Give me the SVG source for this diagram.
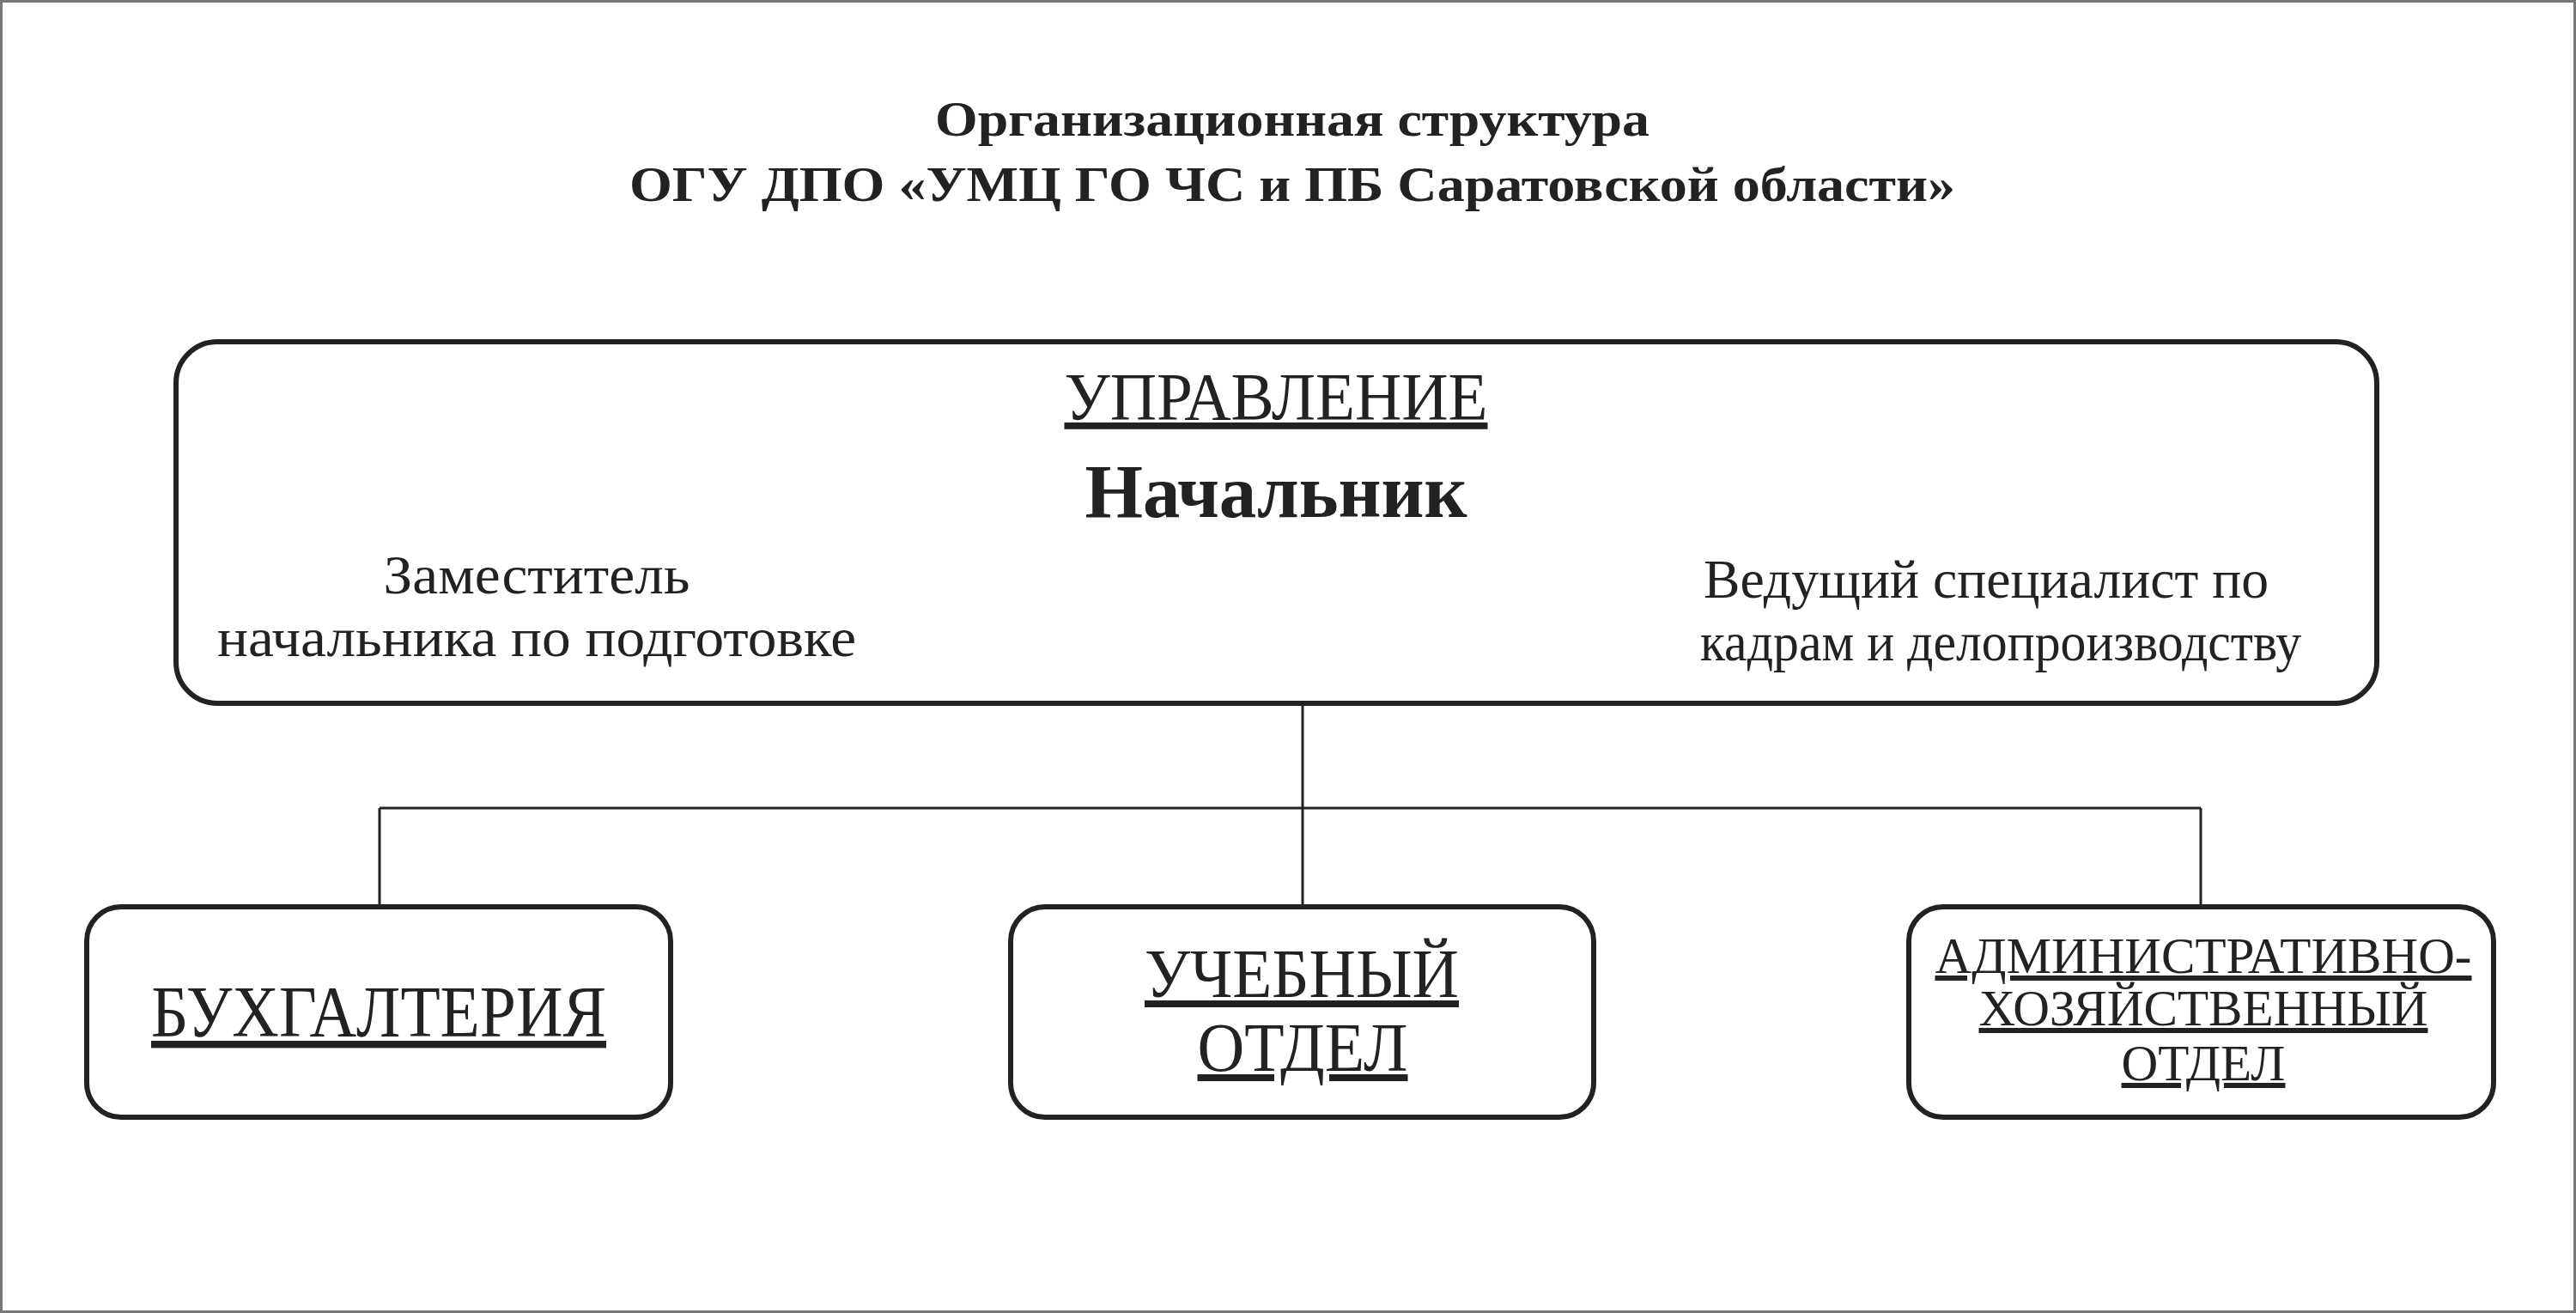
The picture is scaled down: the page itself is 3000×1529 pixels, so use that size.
<svg xmlns="http://www.w3.org/2000/svg" width="3000" height="1529" viewBox="0 0 3000 1529">
<style>
.box{fill:#fff;stroke:#222;stroke-width:6}
.t{font-family:"Liberation Serif",serif;fill:#222;text-anchor:middle}
.u{text-decoration:underline}
.c{stroke:#222;stroke-width:3;fill:none}
</style>
<rect x="0" y="0" width="3000" height="1529" fill="#fff"/>
<rect x="1.5" y="1.5" width="2997" height="1526" fill="none" stroke="#777" stroke-width="3"/>
<g id="title">
<text class="t" x="1505" y="158" font-size="56" font-weight="bold" textLength="832" lengthAdjust="spacingAndGlyphs">Организационная структура</text>
<text class="t" x="1505" y="234" font-size="56" font-weight="bold" textLength="1544" lengthAdjust="spacingAndGlyphs">ОГУ ДПО «УМЦ ГО ЧС и ПБ Саратовской области»</text>
</g>
<g id="connectors">
<path class="c" d="M1517 819 V1056 M442 941 H2563 M442 941 V1056 M2563 941 V1056"/>
</g>
<g id="upravlenie">
<rect class="box" x="205" y="398" width="2563" height="421" rx="48"/>
<text class="t u" x="1486" y="488" font-size="78" textLength="493" lengthAdjust="spacingAndGlyphs">УПРАВЛЕНИЕ</text>
<text class="t" x="1486" y="602" font-size="88" font-weight="bold" textLength="445" lengthAdjust="spacingAndGlyphs">Начальник</text>
<text class="t" x="625" y="691" font-size="64" textLength="357" lengthAdjust="spacingAndGlyphs">Заместитель</text>
<text class="t" x="625" y="764" font-size="64" textLength="744" lengthAdjust="spacingAndGlyphs">начальника по подготовке</text>
<text class="t" x="2313" y="696" font-size="64" textLength="658" lengthAdjust="spacingAndGlyphs">Ведущий специалист по</text>
<text class="t" x="2330" y="769" font-size="64" textLength="700" lengthAdjust="spacingAndGlyphs">кадрам и делопроизводству</text>
</g>
<g id="buh">
<rect class="box" x="101" y="1056" width="680" height="245" rx="40"/>
<text class="t u" x="441" y="1207" font-size="84" textLength="530" lengthAdjust="spacingAndGlyphs">БУХГАЛТЕРИЯ</text>
</g>
<g id="ucheb">
<rect class="box" x="1177" y="1056" width="679" height="245" rx="40"/>
<text class="t u" x="1516" y="1161" font-size="80" textLength="366" lengthAdjust="spacingAndGlyphs">УЧЕБНЫЙ</text>
<text class="t u" x="1517" y="1247" font-size="80" textLength="245" lengthAdjust="spacingAndGlyphs">ОТДЕЛ</text>
</g>
<g id="aho">
<rect class="box" x="2223" y="1056" width="681" height="245" rx="40"/>
<text class="t u" x="2566" y="1133" font-size="60" textLength="625" lengthAdjust="spacingAndGlyphs">АДМИНИСТРАТИВНО-</text>
<text class="t u" x="2566" y="1194" font-size="60" textLength="523" lengthAdjust="spacingAndGlyphs">ХОЗЯЙСТВЕННЫЙ</text>
<text class="t u" x="2566" y="1258" font-size="60" textLength="191" lengthAdjust="spacingAndGlyphs">ОТДЕЛ</text>
</g>
</svg>
